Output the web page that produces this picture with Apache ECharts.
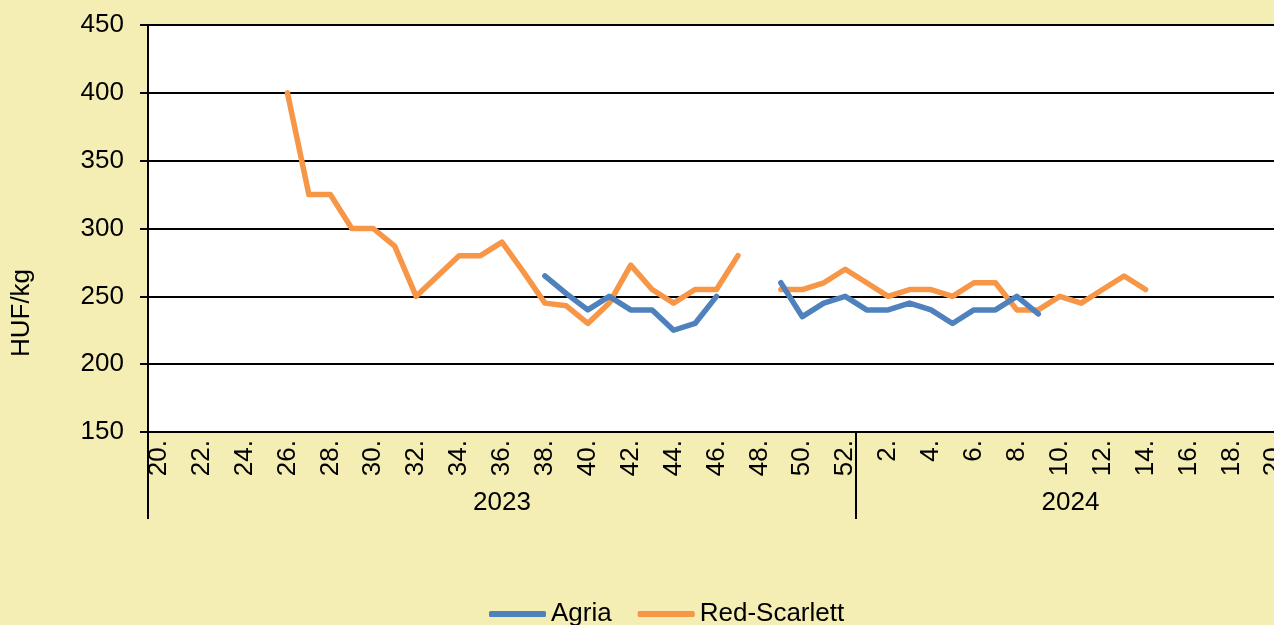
<!DOCTYPE html>
<html>
<head>
<meta charset="utf-8">
<script src="https://cdn.jsdelivr.net/npm/echarts@6/dist/echarts.min.js"></script>
<style>
  html, body { margin: 0; padding: 0; background: #F4EDB4; }
  #chart { width: 1274px; height: 625px; }
</style>
</head>
<body>
<div id="chart"></div>
<script>
// week labels, 2023 then 2024
const weeks2023 = ['20.', '21.', '22.', '23.', '24.', '25.', '26.', '27.', '28.', '29.', '30.', '31.', '32.', '33.', '34.', '35.', '36.',
  '37.', '38.', '39.', '40.', '41.', '42.', '43.', '44.', '45.', '46.', '47.', '48.', '49.', '50.', '51.', '52.'];
const weeks2024 = ['1.', '2.', '3.', '4.', '5.', '6.', '7.', '8.', '9.', '10.', '11.', '12.', '13.', '14.', '15.', '16.', '17.', '18.', '19.', '20.'];
const years = ['2023', '2024'];

// HUF/kg
const agria = [
  null, null, null, null, null, null, null, null, null, null, null, null, null, null, null, null, null, null,
  265, 252, 240, 250, 240, 240, 225, 230, 250, null, null, 260, 235, 245, 250,
  240, 240, 245, 240, 230, 240, 240, 250, 237, null, null, null, null, null, null, null, null, null, null, null
];
const redScarlett = [
  null, null, null, null, null, null,
  400, 325, 325, 300, 300, 287, 250, 265, 280, 280, 290, 268, 245, 243, 230, 245, 273, 255, 245, 255, 255, 280, null, 255, 255, 260, 270,
  260, 250, 255, 255, 250, 260, 260, 240, 240, 250, 245, 255, 265, 255, null, null, null, null, null, null
];

const categories = weeks2023.concat(weeks2024);
const n = categories.length;
const font = 'Liberation Sans, Arial, sans-serif';
const fs = 26;

const chart = echarts.init(document.getElementById('chart'));
chart.setOption({
  backgroundColor: '#F4EDB4',
  animation: false,
  textStyle: { fontFamily: font },
  grid: {
    left: 148, top: 25, width: 1137, height: 407,
    show: true, backgroundColor: '#ffffff', borderWidth: 0,
    containLabel: false, outerBoundsMode: 'none'
  },
  legend: {
    left: 489, top: 601, padding: 0,
    icon: 'roundRect', itemWidth: 57, itemHeight: 6, itemGap: 26,
    textStyle: { fontSize: fs, color: '#000', fontFamily: font },
    data: ['Agria', 'Red-Scarlett']
  },
  graphic: [{
    type: 'text', x: 22, y: 313, rotation: Math.PI / 2,
    style: { text: 'HUF/kg', fontSize: fs, fontFamily: font, fill: '#000', textAlign: 'center', textVerticalAlign: 'middle' }
  }],
  xAxis: [{
    type: 'category',
    data: categories,
    boundaryGap: true,
    axisLine: { lineStyle: { color: '#000', width: 2 } },
    axisTick: { show: false },
    axisLabel: { interval: 1, rotate: 90, fontSize: fs, color: '#000', margin: 8, fontFamily: font },
    splitLine: { show: false }
  }, {
    // year groups
    type: 'value', min: 0, max: n, position: 'bottom',
    axisLine: { show: false },
    splitLine: { show: false },
    axisTick: { show: true, customValues: [0, weeks2023.length, n], length: 87, inside: false, lineStyle: { color: '#000', width: 2 } },
    axisLabel: {
      customValues: [weeks2023.length / 2, weeks2023.length + weeks2024.length / 2],
      formatter: v => (v < weeks2023.length ? years[0] : years[1]),
      fontSize: fs, color: '#000', margin: 58, fontFamily: font
    }
  }],
  yAxis: {
    type: 'value', min: 150, max: 450, interval: 50,
    axisLine: { show: true, lineStyle: { color: '#000', width: 2 } },
    axisTick: { show: true, length: 8, lineStyle: { color: '#000', width: 2 } },
    axisLabel: { fontSize: fs, color: '#000', margin: 24, fontFamily: font },
    splitLine: { lineStyle: { color: '#000', width: 2 } }
  },
  series: [{
    name: 'Agria', type: 'line', data: agria, z: 3,
    symbol: 'none', connectNulls: false,
    itemStyle: { color: '#4F81BD' },
    lineStyle: { color: '#4F81BD', width: 5.5, cap: 'round', join: 'round' }
  }, {
    name: 'Red-Scarlett', type: 'line', data: redScarlett, z: 2,
    symbol: 'none', connectNulls: false,
    itemStyle: { color: '#F79646' },
    lineStyle: { color: '#F79646', width: 5.5, cap: 'round', join: 'round' }
  }]
});
</script>
</body>
</html>
